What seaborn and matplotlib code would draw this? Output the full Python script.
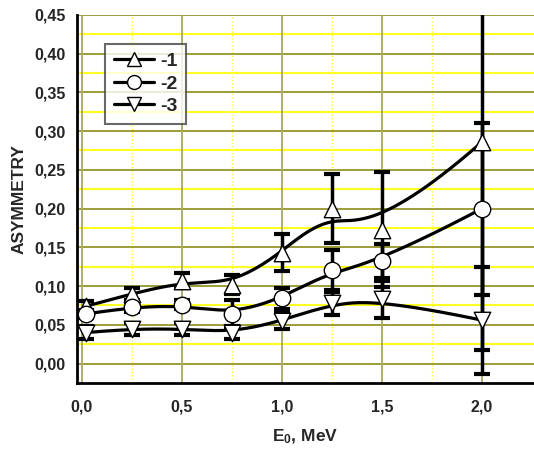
import numpy as np
import pandas as pd
import matplotlib
matplotlib.use("Agg")
import matplotlib.pyplot as plt
import seaborn as sns
from matplotlib.ticker import MultipleLocator, FuncFormatter
from matplotlib.lines import Line2D

# ---- data ----
energy = [0.02, 0.25, 0.5, 0.75, 1.0, 1.25, 1.5, 2.0]
asym1 = [0.074, 0.090, 0.107, 0.102, 0.143, 0.200, 0.173, 0.286]
err1 = [0.007, 0.008, 0.010, 0.012, 0.024, 0.045, 0.074, 0.268]
asym2 = [0.064, 0.073, 0.076, 0.064, 0.084, 0.121, 0.132, 0.200]
err2 = [0.005, 0.006, 0.006, 0.018, 0.014, 0.026, 0.022, 0.111]
asym3 = [0.040, 0.045, 0.045, 0.040, 0.055, 0.078, 0.083, 0.056]
err3 = [0.008, 0.008, 0.008, 0.008, 0.010, 0.015, 0.024, 0.069]
series_labels = ["-1", "-2", "-3"]
series_markers = ["^", "o", "v"]
x_ticks = [0.0, 0.5, 1.0, 1.5, 2.0]
y_ticks = [0.00, 0.05, 0.10, 0.15, 0.20, 0.25, 0.30, 0.35, 0.40, 0.45]


def bspline(px, py, n=300):
    """Clamped cubic B-spline using the data points as control points."""
    P = np.column_stack([px, py]).astype(float)
    k = 3
    m = len(P)
    inner = np.arange(1, m - k)
    t = np.concatenate([[0] * (k + 1), inner, [m - k] * (k + 1)]).astype(float)
    us = np.linspace(0, m - k, n)
    out = []
    for u in us:
        if u >= t[m]:
            i = m - 1
        else:
            i = np.searchsorted(t, u, side="right") - 1
        d = [P[j + i - k].copy() for j in range(k + 1)]
        for r in range(1, k + 1):
            for j in range(k, r - 1, -1):
                denom = t[j + 1 + i - r] - t[j + i - k]
                a = 0.0 if denom == 0 else (u - t[j + i - k]) / denom
                d[j] = (1 - a) * d[j - 1] + a * d[j]
        out.append(d[k])
    out = np.array(out)
    return out[:, 0], out[:, 1]


sns.set_style("white")
plt.rcParams["font.family"] = ["Liberation Sans", "DejaVu Sans"]
plt.rcParams["font.weight"] = "bold"
plt.rcParams["mathtext.fontset"] = "custom"
plt.rcParams["mathtext.rm"] = "Liberation Sans:bold"
plt.rcParams["mathtext.it"] = "Liberation Sans:bold"
plt.rcParams["mathtext.bf"] = "Liberation Sans:bold"

fig = plt.figure(figsize=(5.34, 4.5), dpi=100)
ax = fig.add_axes([0.144, 0.149, 0.856, 0.818])

ax.set_xlim(-0.025, 2.26)
ax.set_ylim(-0.025, 0.45)

# grid
ax.xaxis.set_major_locator(MultipleLocator(0.5))
ax.xaxis.set_minor_locator(MultipleLocator(0.25))
ax.yaxis.set_major_locator(MultipleLocator(0.05))
ax.yaxis.set_minor_locator(MultipleLocator(0.025))
ax.grid(False)
for yv in np.arange(0.025, 0.45, 0.05):
    ax.axhline(yv, color="#ffff22", lw=1.5, zorder=0)
for yv in y_ticks:
    ax.axhline(yv, color="#8c8c1a", lw=1.2, zorder=0.5)
for xv in [0.25, 0.75, 1.25, 1.75]:
    ax.axvline(xv, color="#ffff33", lw=1.0, ls=(0, (1, 1.5)), zorder=0)
for xv in x_ticks:
    ax.axvline(xv, color="#a8a860", lw=1.3, zorder=0.5)

series = [(asym1, err1), (asym2, err2), (asym3, err3)]
for (vals, errs), mk, lab in zip(series, series_markers, series_labels):
    cx, cy = bspline(energy, vals)
    sns.lineplot(x=cx, y=cy, ax=ax, color="black", lw=2.3, sort=False,
                 estimator=None, zorder=3)
    ax.errorbar(energy, vals, yerr=errs, fmt="none", ecolor="black",
                elinewidth=2.5, capsize=5.5, capthick=3, zorder=4,
                clip_on=True)
    df = pd.DataFrame({"x": energy, "y": vals})
    sns.scatterplot(data=df, x="x", y="y", ax=ax, marker=mk, s=140,
                    facecolor="white", edgecolor="black", linewidth=1.0,
                    zorder=5, clip_on=False)

# spines / ticks
for s in ["top", "right"]:
    ax.spines[s].set_visible(False)
for s in ["left", "bottom"]:
    ax.spines[s].set_color("black")
    ax.spines[s].set_linewidth(2)
ax.tick_params(axis="both", which="major", direction="out", length=5,
               width=1.5, color="black", labelsize=11.5, pad=3)
ax.tick_params(axis="both", which="minor", direction="out", length=3,
               width=1.2, color="black")
ax.tick_params(axis="x", pad=7)
ax.xaxis.set_major_formatter(FuncFormatter(lambda v, p: f"{v:.1f}".replace(".", ",")))
ax.yaxis.set_major_formatter(FuncFormatter(lambda v, p: f"{v:.2f}".replace(".", ",")))
for t in ax.get_xticklabels() + ax.get_yticklabels():
    t.set_fontweight("bold")

ax.set_xlabel("E$_0$, MeV", fontsize=12.5, fontweight="bold", labelpad=9)
ax.set_ylabel("ASYMMETRY", fontsize=12.5, fontweight="bold", labelpad=6)

handles = [Line2D([0], [0], color="black", lw=2.3, marker=m, markersize=10,
                  markerfacecolor="white", markeredgecolor="black",
                  markeredgewidth=1.0) for m in series_markers]
leg = ax.legend(handles, series_labels, loc="upper left",
                bbox_to_anchor=(0.061, 0.921), prop={"size": 14, "weight": "bold"},
                frameon=True, fancybox=False, handlelength=2.1, handletextpad=0.3,
                borderpad=0.45, labelspacing=0.25, borderaxespad=0)
leg.get_frame().set_edgecolor("#444444")
leg.get_frame().set_linewidth(1.5)

fig.savefig("out.png", dpi=100)
